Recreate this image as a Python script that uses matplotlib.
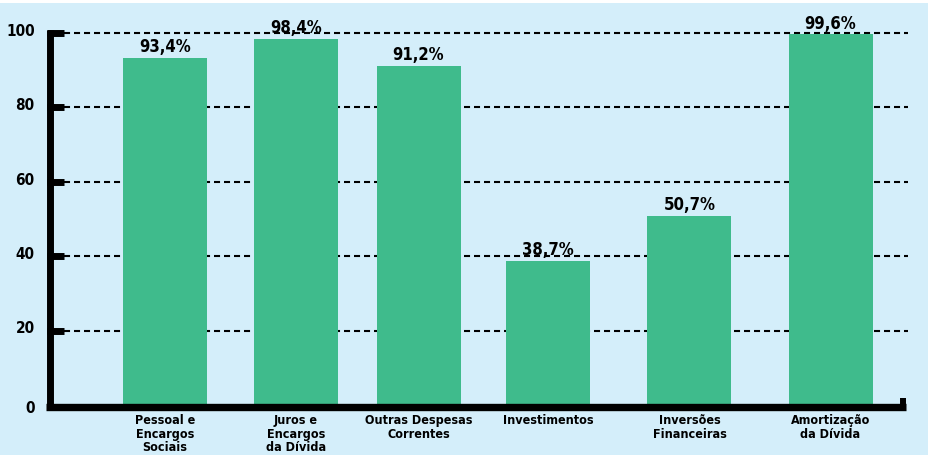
import matplotlib
matplotlib.use("Agg")
import matplotlib.pyplot as plt
from matplotlib.patches import Rectangle

# data
categories = ["Pessoal e\nEncargos\nSociais", "Juros e\nEncargos\nda Dívida",
              "Outras Despesas\nCorrentes", "Investimentos",
              "Inversões\nFinanceiras", "Amortização\nda Dívida"]
values = [93.4, 98.4, 91.2, 38.7, 50.7, 99.6]
value_labels = ["93,4%", "98,4%", "91,2%", "38,7%", "50,7%", "99,6%"]
y_ticks = [0, 20, 40, 60, 80, 100]

# layout (bar centres are not evenly spaced in the original)
bar_x = [0.885, 1.892, 2.835, 3.831, 4.919, 6.004]
bar_w = 0.646

bg = "#D4EEFA"
green = "#3FBB8C"
font = dict(family="DejaVu Sans", stretch="condensed", fontweight="bold")

fig = plt.figure(figsize=(9.29, 4.56), dpi=100)
fig.patch.set_facecolor(bg)
fig.patches.append(Rectangle((0, 1 - 4 / 456), 1, 4 / 456, transform=fig.transFigure,
                             facecolor="white", edgecolor="none"))
ax = fig.add_axes([50 / 929, 50 / 456, 858 / 929, 372 / 456])
ax.set_facecolor(bg)
ax.set_xlim(0, 6.6)
ax.set_ylim(0, 100)
ax.axis("off")

# dashed grid
for v in y_ticks[1:]:
    ax.plot([0.108, 6.6], [v, v], color="black", lw=1.5, ls=(0, (2.9, 1.9)),
            zorder=1, clip_on=False)

ax.bar(bar_x, values, width=bar_w, color=green, zorder=2)

for x, v, lab in zip(bar_x, values, value_labels):
    ax.annotate(lab, (x, v), xytext=(0, 5), textcoords="offset points",
                ha="center", va="baseline", fontsize=12, **font)

for x, lab in zip(bar_x, categories):
    ax.annotate(lab, (x, 0), xytext=(0, -6), textcoords="offset points",
                ha="center", va="top", fontsize=9, linespacing=1.05, **font)

# axis lines and tick stubs
ax.plot([0, 0], [-1.1, 100.9], color="black", lw=5, solid_capstyle="butt",
        clip_on=False, zorder=3)
ax.plot([-0.03, 6.585], [-0.55, -0.55], color="black", lw=5.3, solid_capstyle="butt",
        clip_on=False, zorder=3)
ax.plot([6.56, 6.56], [-1.2, 1.9], color="black", lw=4.3, solid_capstyle="butt",
        clip_on=False, zorder=3)
for v in y_ticks[1:]:
    ax.plot([-0.02, 0.108], [v, v], color="black", lw=5, solid_capstyle="butt",
            clip_on=False, zorder=3)

for v in y_ticks:
    dy = 2 if v else -1.5
    ax.annotate(str(v), (0, v), xytext=(-11, dy), textcoords="offset points",
                ha="right", va="center", fontsize=11, **font)

fig.savefig("out.png", dpi=100, facecolor=fig.get_facecolor())
